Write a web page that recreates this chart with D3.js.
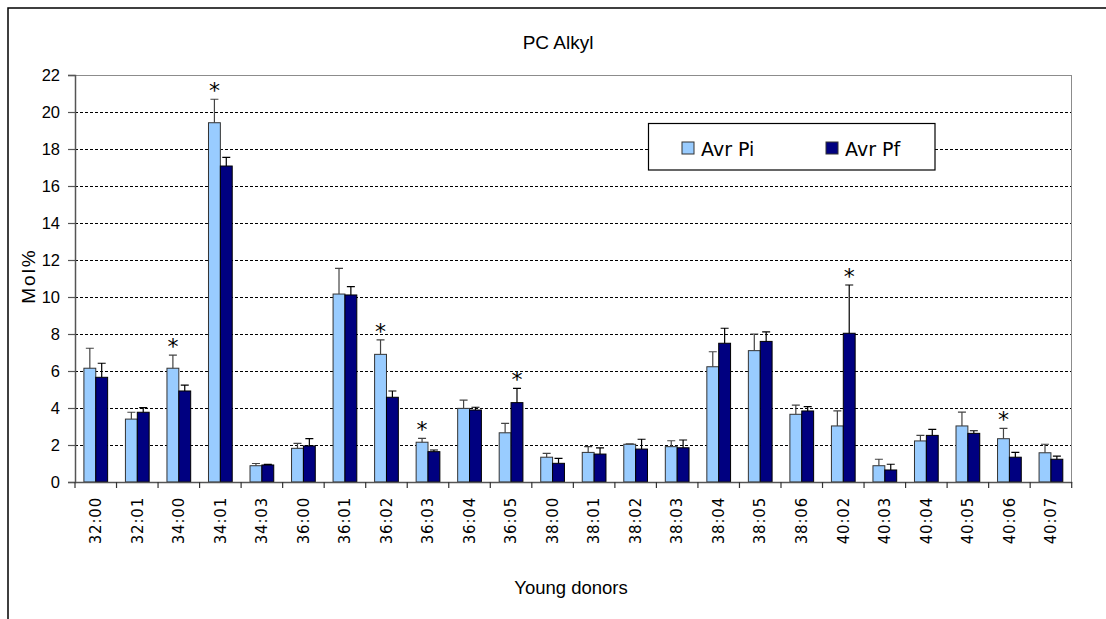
<!DOCTYPE html>
<html>
<head>
<meta charset="utf-8">
<script src="https://cdn.jsdelivr.net/npm/d3@7"></script>
<style>
  html, body { margin: 0; padding: 0; background: #fff; }
  svg { display: block; }
</style>
</head>
<body>
<svg id="chart" width="1106" height="619"></svg>
<script>
const categories = ["32:00","32:01","34:00","34:01","34:03","36:00","36:01","36:02","36:03","36:04","36:05","38:00","38:01","38:02","38:03","38:04","38:05","38:06","40:02","40:03","40:04","40:05","40:06","40:07"];
const seriesNames = ["Avr Pi","Avr Pf"];
const avrPi = [6.15, 3.40, 6.15, 19.42, 0.88, 1.82, 10.16, 6.90, 2.15, 3.98, 2.66, 1.34, 1.60, 2.04, 1.91, 6.23, 7.10, 3.66, 3.03, 0.88, 2.22, 3.03, 2.34, 1.58];
const errPi = [1.08, 0.37, 0.71, 1.27, 0.12, 0.27, 1.39, 0.78, 0.21, 0.45, 0.51, 0.21, 0.31, 0.02, 0.32, 0.81, 0.90, 0.50, 0.81, 0.35, 0.30, 0.75, 0.56, 0.46];
const avrPf = [5.66, 3.77, 4.92, 17.08, 0.92, 1.95, 10.11, 4.58, 1.64, 3.89, 4.29, 1.01, 1.51, 1.78, 1.85, 7.50, 7.60, 3.84, 8.04, 0.65, 2.52, 2.63, 1.34, 1.23];
const errPf = [0.76, 0.25, 0.32, 0.47, 0.03, 0.39, 0.45, 0.34, 0.09, 0.15, 0.77, 0.27, 0.34, 0.53, 0.42, 0.81, 0.52, 0.23, 2.61, 0.31, 0.33, 0.14, 0.26, 0.17];
const significance = ["", "", "Avr Pi", "Avr Pi", "", "", "", "Avr Pi", "Avr Pi", "", "Avr Pf", "", "", "", "", "", "", "", "Avr Pf", "", "", "", "Avr Pi", ""];
const yTicks = [0, 2, 4, 6, 8, 10, 12, 14, 16, 18, 20, 22];
const titleText = "PC Alkyl";
const xTitle = "Young donors";
const yTitle = "Mol%";

const colors = {"Avr Pi": "#99CCFF", "Avr Pf": "#000080"};
const strokes = {"Avr Pi": "#333333", "Avr Pf": "#000000"};
const errColors = {"Avr Pi": "#444444", "Avr Pf": "#000000"};

const svg = d3.select("#chart");
const plotL = 75, plotR = 1071.7, plotT = 75, plotB = 482;

// outer chart border
svg.append("rect").attr("x", 8).attr("y", 8).attr("width", 1200).attr("height", 700)
  .attr("fill", "none").attr("stroke", "#000").attr("stroke-width", 1.5);

const x0 = d3.scaleBand().domain(categories).range([plotL, plotR]).paddingInner(0).paddingOuter(0);
const x1 = d3.scaleBand().domain(seriesNames).range([0, x0.bandwidth()]).paddingInner(0).paddingOuter(0.75);
const y = d3.scaleLinear().domain([0, 22]).range([plotB, plotT]);

// gridlines
svg.append("g").selectAll("line").data(yTicks.filter(t => t > 0 && t < 22)).join("line")
  .attr("x1", plotL).attr("x2", plotR).attr("y1", d => y(d)).attr("y2", d => y(d))
  .attr("stroke", "#000").attr("stroke-width", 1).attr("stroke-dasharray", "3,2")
  .attr("shape-rendering", "crispEdges");

// plot area border (top and right)
svg.append("path").attr("d", `M${plotL},${y(22)}H${plotR}V${plotB}`)
  .attr("fill", "none").attr("stroke", "#8c8c8c").attr("stroke-width", 1).attr("shape-rendering", "crispEdges");

const data = categories.map((c, i) => ({
  cat: c,
  vals: [
    {name: "Avr Pi", v: avrPi[i], e: errPi[i]},
    {name: "Avr Pf", v: avrPf[i], e: errPf[i]}
  ],
  star: significance[i]
}));

const groups = svg.append("g").selectAll("g").data(data).join("g")
  .attr("transform", d => `translate(${x0(d.cat)},0)`);

groups.selectAll("rect").data(d => d.vals).join("rect")
  .attr("x", d => x1(d.name)).attr("width", x1.bandwidth())
  .attr("y", d => y(d.v)).attr("height", d => y(0) - y(d.v))
  .attr("fill", d => colors[d.name]).attr("stroke", d => strokes[d.name]).attr("stroke-width", 1);

// error bars (upper only)
groups.selectAll("path.err").data(d => d.vals).join("path").attr("class", "err")
  .attr("d", d => {
    const cx = x1(d.name) + x1.bandwidth() / 2;
    const yt = y(d.v + d.e), yb = y(d.v);
    return `M${cx},${yb}V${yt}M${cx - 4},${yt}H${cx + 4}`;
  })
  .attr("fill", "none").attr("stroke", d => errColors[d.name]).attr("stroke-width", 1.2);

// significance stars
groups.filter(d => d.star !== "").append("text")
  .attr("x", d => x1(d.star) + x1.bandwidth() / 2)
  .attr("y", d => { const s = d.vals.find(v => v.name === d.star); return y(s.v + s.e) - 1; })
  .attr("text-anchor", "middle").attr("font-family", "DejaVu Sans, Verdana, sans-serif")
  .attr("font-size", 22).attr("fill", "#000").text("*");

// y axis
const yAxis = d3.axisLeft(y).tickValues(yTicks).tickSize(7).tickPadding(8).tickFormat(d3.format("d"));
const gy = svg.append("g").attr("transform", `translate(${plotL},0)`).call(yAxis);
gy.select(".domain").attr("stroke", "#555").attr("stroke-width", 1.5);
gy.selectAll(".tick line").attr("stroke", "#555").attr("stroke-width", 1.2);
gy.selectAll(".tick text").attr("font-family", "Liberation Sans, Arial, sans-serif").attr("font-size", 16.5).attr("fill", "#000");

// x axis
const xAxis = d3.axisBottom(x0).tickSize(0).tickPadding(0);
const gx = svg.append("g").attr("transform", `translate(0,${plotB})`).call(xAxis);
gx.select(".domain").attr("stroke", "#555").attr("stroke-width", 1.5);
gx.selectAll(".tick text")
  .attr("font-family", "DejaVu Sans, Verdana, sans-serif").attr("font-size", 15).attr("fill", "#000")
  .attr("letter-spacing", 0.8)
  .attr("transform", "rotate(-90)").attr("text-anchor", "end").attr("dy", "0.35em")
  .attr("x", -15).attr("y", 0);
// boundary tick marks between categories
svg.append("g").selectAll("line").data(d3.range(categories.length + 1)).join("line")
  .attr("x1", i => plotL + i * x0.step()).attr("x2", i => plotL + i * x0.step())
  .attr("y1", plotB).attr("y2", plotB + 6)
  .attr("stroke", "#333").attr("stroke-width", 1.2);

// titles
svg.append("text").attr("x", 558).attr("y", 49).attr("text-anchor", "middle")
  .attr("font-family", "Liberation Sans, Arial, sans-serif").attr("font-size", 19).text(titleText);
svg.append("text").attr("x", 571).attr("y", 594).attr("text-anchor", "middle")
  .attr("font-family", "Liberation Sans, Arial, sans-serif").attr("font-size", 18.5).text(xTitle);
svg.append("text").attr("transform", "translate(35,276) rotate(-90)").attr("text-anchor", "middle")
  .attr("font-family", "Liberation Sans, Arial, sans-serif").attr("font-size", 19).attr("letter-spacing", 2).text(yTitle);

// legend
const lg = svg.append("g");
lg.append("rect").attr("x", 648.5).attr("y", 123.5).attr("width", 286.5).attr("height", 46.5)
  .attr("fill", "#fff").attr("stroke", "#000").attr("stroke-width", 1.2);
const legendX = [682, 826];
seriesNames.forEach((s, i) => {
  lg.append("rect").attr("x", legendX[i]).attr("y", 142).attr("width", 12).attr("height", 12)
    .attr("fill", colors[s]).attr("stroke", "#333").attr("stroke-width", 1);
  lg.append("text").attr("x", legendX[i] + 19).attr("y", 155.5)
    .attr("font-family", "DejaVu Sans, Verdana, sans-serif").attr("font-size", 19).text(s);
});
</script>
</body>
</html>
